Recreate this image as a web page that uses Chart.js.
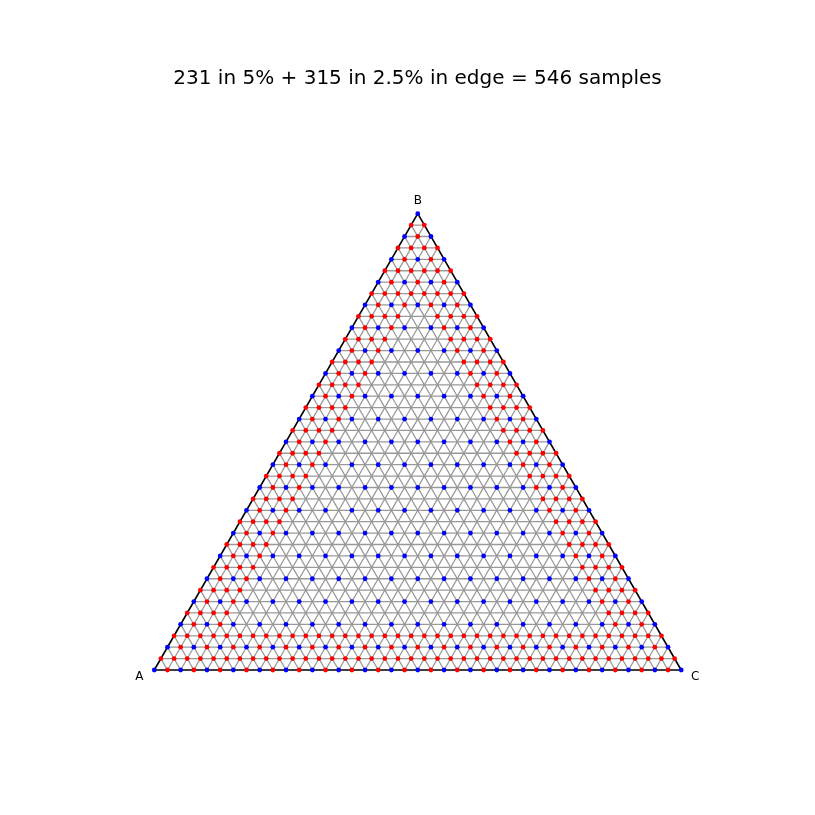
<!DOCTYPE html>
<html>
<head>
<meta charset="utf-8">
<script src="https://cdn.jsdelivr.net/npm/chart.js@4"></script>
<style>
  html, body { margin: 0; padding: 0; background: #ffffff; }
  #wrap { width: 815px; height: 815px; }
</style>
</head>
<body>
<div id="wrap"><canvas id="c" width="815" height="815"></canvas></div>
<script>
// ---- data ----
const titleText = "231 in 5% + 315 in 2.5% in edge = 546 samples";
const vertexLabels = ["A", "B", "C"];
// coarse sample levels (percent)
const levels5 = [0, 5, 10, 15, 20, 25, 30, 35, 40, 45, 50, 55, 60, 65, 70, 75, 80, 85, 90, 95, 100];
// fine sample levels (percent), also the grid-line levels
const levels25 = [0, 2.5, 5, 7.5, 10, 12.5, 15, 17.5, 20, 22.5, 25, 27.5, 30, 32.5, 35, 37.5, 40,
  42.5, 45, 47.5, 50, 52.5, 55, 57.5, 60, 62.5, 65, 67.5, 70, 72.5, 75, 77.5, 80, 82.5, 85, 87.5,
  90, 92.5, 95, 97.5, 100];
// fine samples only kept where some component is below this percentage (the "edge")
const edgeLimit = 10;

// ---- build tables ----
const H = Math.sqrt(3) / 2;
function toXY(a, b, c) { return { x: c + b / 2, y: b * H }; }
function onCoarse(v) { return Math.abs(v / 5 - Math.round(v / 5)) < 1e-9; }

const bluePts = [];
for (const a of levels5) for (const b of levels5) {
  const c = 100 - a - b;
  if (c < -1e-9) continue;
  bluePts.push(toXY(a, b, Math.max(c, 0)));
}
const redPts = [];
for (const a of levels25) for (const b of levels25) {
  const c = 100 - a - b;
  if (c < -1e-9) continue;
  const cc = Math.max(c, 0);
  if (onCoarse(a) && onCoarse(b) && onCoarse(cc)) continue;
  if (Math.min(a, b, cc) < edgeLimit - 1e-9) redPts.push(toXY(a, b, cc));
}
const gridPts = [];
for (const L of levels25) {
  if (L <= 0 || L >= 100) continue;
  const m = 100 - L;
  gridPts.push(toXY(m, L, 0), toXY(0, L, m), { x: null, y: null });
  gridPts.push(toXY(m, 0, L), toXY(0, m, L), { x: null, y: null });
  gridPts.push(toXY(L, m, 0), toXY(L, 0, m), { x: null, y: null });
}
const boundary = [toXY(100, 0, 0), toXY(0, 0, 100), toXY(0, 100, 0), toXY(100, 0, 0)];

// ---- geometry of the view ----
const pxPerUnit = 5.269;
const ax0 = 154.3, ay0 = 670; // pixel of vertex A
const xmin = -ax0 / pxPerUnit, xmax = (815 - ax0) / pxPerUnit;
const ymax = ay0 / pxPerUnit, ymin = -(815 - ay0) / pxPerUnit;

const textPlugin = {
  id: 'ternaryText',
  afterDraw(chart) {
    const ctx = chart.ctx;
    const xs = chart.scales.x, ys = chart.scales.y;
    ctx.save();
    ctx.fillStyle = '#000000';
    ctx.font = '20px "DejaVu Sans"';
    ctx.textAlign = 'center';
    ctx.textBaseline = 'alphabetic';
    ctx.fillText(titleText, 417.5, 84);
    ctx.font = '12px "DejaVu Sans"';
    ctx.textBaseline = 'middle';
    const vA = toXY(100, 0, 0), vB = toXY(0, 100, 0), vC = toXY(0, 0, 100);
    ctx.fillText(vertexLabels[0], xs.getPixelForValue(vA.x) - 15, ys.getPixelForValue(vA.y) + 6.5);
    ctx.fillText(vertexLabels[1], xs.getPixelForValue(vB.x), ys.getPixelForValue(vB.y) - 12.5);
    ctx.fillText(vertexLabels[2], xs.getPixelForValue(vC.x) + 14, ys.getPixelForValue(vC.y) + 6.5);
    ctx.restore();
  }
};

new Chart(document.getElementById('c'), {
  type: 'scatter',
  data: {
    datasets: [
      { label: 'fine edge', data: redPts, backgroundColor: '#ff0000', pointRadius: 2.4,
        pointBorderWidth: 0, borderWidth: 0, showLine: false, order: 0 },
      { label: 'coarse', data: bluePts, backgroundColor: '#0000ff', pointRadius: 2.4,
        pointBorderWidth: 0, borderWidth: 0, showLine: false, order: 1 },
      { label: 'boundary', data: boundary, showLine: true, borderColor: '#000000', borderWidth: 1.6,
        pointRadius: 0, fill: false, tension: 0, order: 2 },
      { label: 'grid', data: gridPts, showLine: true, spanGaps: false, borderColor: '#999999',
        borderWidth: 1.3, pointRadius: 0, fill: false, tension: 0, order: 3 }
    ]
  },
  options: {
    responsive: false,
    animation: false,
    devicePixelRatio: 1,
    layout: { padding: 0, autoPadding: false },
    events: [],
    scales: {
      x: { type: 'linear', min: xmin, max: xmax, display: false },
      y: { type: 'linear', min: ymin, max: ymax, display: false }
    },
    plugins: { legend: { display: false }, tooltip: { enabled: false }, title: { display: false } }
  },
  plugins: [textPlugin]
});
</script>
</body>
</html>
